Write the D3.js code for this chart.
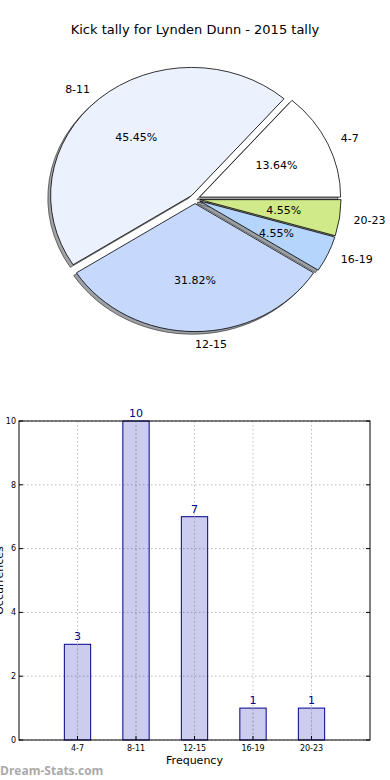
<!DOCTYPE html>
<html>
<head>
<meta charset="utf-8">
<script src="https://cdn.jsdelivr.net/npm/d3@7"></script>
<style>
  body { margin: 0; background: #fff; }
  text { font-family: "DejaVu Sans", sans-serif; }
</style>
</head>
<body>
<div id="main"></div>
<script>
// data
const categories = ["4-7", "8-11", "12-15", "16-19", "20-23"];
const counts = [3, 10, 7, 1, 1];
const sliceColors = ["#ffffff", "#ebf2fe", "#c6d9fd", "#b5d5fd", "#d0ea8a"];
const yTicks = [0, 2, 4, 6, 8, 10];

const W = 390, H = 780;
const svg = d3.select("#main").append("svg").attr("width", W).attr("height", H);

svg.append("text")
    .attr("x", 195).attr("y", 34)
    .attr("text-anchor", "middle")
    .style("font-size", "13px")
    .text("Kick tally for Lynden Dunn - 2015 tally");

// ---- pie (matplotlib style: starts at east, goes counter-clockwise, elliptical)
const pie = {cx: 195, cy: 199, rx: 141, ry: 128, explode: 0.036};
const total = d3.sum(counts);
const arcsData = d3.pie().sort(null).startAngle(Math.PI / 2).endAngle(Math.PI / 2 - 2 * Math.PI)(counts);
const arc = d3.arc().innerRadius(0).outerRadius(1);

// matplotlib angle (ccw from east) of the middle of a slice
function midTheta(d) { return Math.PI / 2 - (d.startAngle + d.endAngle) / 2; }
function offs(d, f) {
    const t = midTheta(d);
    return [pie.cx + pie.explode * pie.rx * Math.cos(t) + f * pie.rx * Math.cos(t),
            pie.cy - pie.explode * pie.ry * Math.sin(t) - f * pie.ry * Math.sin(t)];
}

const pg = svg.append("g");
// shadows
pg.selectAll("path.shadow")
    .data(arcsData)
    .enter().append("path")
    .attr("class", "shadow")
    .attr("transform", d => { const o = offs(d, 0); return `translate(${o[0] - 2.8},${o[1] + 2.6}) scale(${pie.rx},${pie.ry})`; })
    .attr("d", arc)
    .attr("fill", (d, i) => { const c = d3.rgb(sliceColors[i]); return d3.rgb(c.r * 0.3, c.g * 0.3, c.b * 0.3); })
    .attr("fill-opacity", 0.5)
    .attr("stroke", "#000").attr("stroke-opacity", 0.5)
    .attr("vector-effect", "non-scaling-stroke")
    .attr("stroke-width", 1);
// slices
pg.selectAll("path.slice")
    .data(arcsData)
    .enter().append("path")
    .attr("class", "slice")
    .attr("transform", d => { const o = offs(d, 0); return `translate(${o[0]},${o[1]}) scale(${pie.rx},${pie.ry})`; })
    .attr("d", arc)
    .attr("fill", (d, i) => sliceColors[i])
    .attr("stroke", "#000")
    .attr("stroke-width", 0.8)
    .attr("vector-effect", "non-scaling-stroke")
    .attr("stroke-linejoin", "round");

// outside labels
pg.selectAll("text.lbl")
    .data(arcsData)
    .enter().append("text")
    .attr("class", "lbl")
    .attr("x", d => offs(d, 1.1)[0])
    .attr("y", d => offs(d, 1.1)[1])
    .attr("dy", "0.35em")
    .attr("text-anchor", d => Math.cos(midTheta(d)) < -1e-9 ? "end" : "start")
    .style("font-size", "11px")
    .text((d, i) => categories[i]);

// percentages
pg.selectAll("text.pct")
    .data(arcsData)
    .enter().append("text")
    .attr("class", "pct")
    .attr("x", d => offs(d, 0.6)[0])
    .attr("y", d => offs(d, 0.6)[1])
    .attr("dy", "0.35em")
    .attr("text-anchor", "middle")
    .style("font-size", "11px")
    .text(d => (d.value / total * 100).toFixed(2) + "%");

// ---- bar chart
const plot = {left: 19, right: 370, top: 421, bottom: 740};
const x = d3.scaleLinear().domain([-1, 5]).range([plot.left, plot.right]);
const y = d3.scaleLinear().domain([0, 10]).range([plot.bottom, plot.top]);
const barW = 0.45;

const bg = svg.append("g");
// grid
bg.selectAll("line.gy").data(yTicks).enter().append("line")
    .attr("x1", plot.left).attr("x2", plot.right)
    .attr("y1", d => y(d)).attr("y2", d => y(d))
    .attr("stroke", "#bbb").attr("stroke-dasharray", "1.5,2.5");
bg.selectAll("line.gx").data(categories).enter().append("line")
    .attr("x1", (d, i) => x(i)).attr("x2", (d, i) => x(i))
    .attr("y1", plot.top).attr("y2", plot.bottom)
    .attr("stroke", "#bbb").attr("stroke-dasharray", "1.5,2.5");

// bars
bg.selectAll("rect.bar").data(counts).enter().append("rect")
    .attr("x", (d, i) => x(i - barW / 2))
    .attr("width", x(barW) - x(0))
    .attr("y", d => y(d))
    .attr("height", d => y(0) - y(d))
    .attr("fill", "#0000aa").attr("fill-opacity", 0.2)
    .attr("stroke", "#00008b").attr("stroke-width", 1);

// re-draw vertical grid over bars (matplotlib grid on top)
bg.selectAll("line.gx2").data(categories).enter().append("line")
    .attr("x1", (d, i) => x(i)).attr("x2", (d, i) => x(i))
    .attr("y1", (d, i) => y(counts[i])).attr("y2", plot.bottom)
    .attr("stroke", "#aaa").attr("stroke-dasharray", "1.5,2.5");

// value labels
bg.selectAll("text.val").data(counts).enter().append("text")
    .attr("x", (d, i) => x(i))
    .attr("y", d => y(d) - 4)
    .attr("text-anchor", "middle")
    .attr("fill", "#00008b")
    .style("font-size", "11px")
    .text(d => d);

// frame
bg.append("rect")
    .attr("x", plot.left).attr("y", plot.top)
    .attr("width", plot.right - plot.left).attr("height", plot.bottom - plot.top)
    .attr("fill", "none").attr("stroke", "#000").attr("stroke-width", 1);

// y ticks
const yAxis = bg.append("g");
yAxis.selectAll("line").data(yTicks).enter().append("line")
    .attr("x1", plot.left).attr("x2", plot.left + 4)
    .attr("y1", d => y(d)).attr("y2", d => y(d)).attr("stroke", "#000");
yAxis.selectAll("line.r").data(yTicks).enter().append("line")
    .attr("x1", plot.right).attr("x2", plot.right - 4)
    .attr("y1", d => y(d)).attr("y2", d => y(d)).attr("stroke", "#000");
yAxis.selectAll("text").data(yTicks).enter().append("text")
    .attr("x", plot.left - 3).attr("y", d => y(d)).attr("dy", "0.35em")
    .attr("text-anchor", "end")
    .style("font-size", "8px")
    .text(d => d);

// x ticks
const xAxis = bg.append("g");
xAxis.selectAll("line").data(categories).enter().append("line")
    .attr("x1", (d, i) => x(i)).attr("x2", (d, i) => x(i))
    .attr("y1", plot.bottom).attr("y2", plot.bottom - 4).attr("stroke", "#000");
xAxis.selectAll("text").data(categories).enter().append("text")
    .attr("x", (d, i) => x(i)).attr("y", plot.bottom + 11)
    .attr("text-anchor", "middle")
    .style("font-size", "8px")
    .text(d => d);

svg.append("text")
    .attr("x", x(2)).attr("y", 764)
    .attr("text-anchor", "middle")
    .style("font-size", "11px")
    .text("Frequency");

svg.append("text")
    .attr("transform", `translate(3,${(plot.top + plot.bottom) / 2}) rotate(-90)`)
    .attr("text-anchor", "middle")
    .style("font-size", "11px")
    .text("Occurrences");

svg.append("text")
    .attr("x", 0).attr("y", 775)
    .attr("fill", "#aaa")
    .style("font-size", "12px")
    .style("font-weight", "bold")
    .style("font-family", "'Open Sans', sans-serif")
    .text("Dream-Stats.com");
</script>
</body>
</html>
